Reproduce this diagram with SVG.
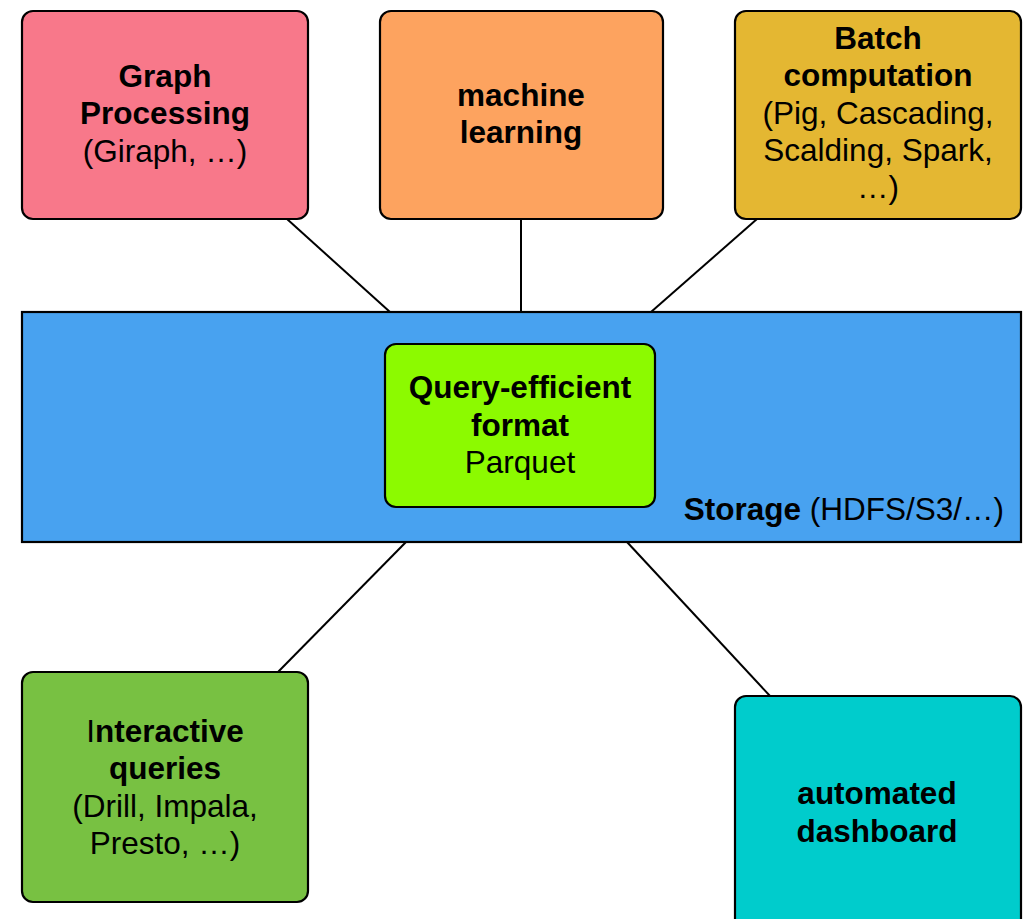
<svg xmlns="http://www.w3.org/2000/svg" width="1031" height="919" viewBox="0 0 1031 919">
<style>
.box{stroke:#000;stroke-width:2.2}
text{font-family:"Liberation Sans",Arial,sans-serif;font-size:31.5px;fill:#000;text-anchor:middle}
.b{font-weight:bold}
.conn line{stroke:#000;stroke-width:2}
</style>
<rect width="1031" height="919" fill="#fff"/>
<g class="conn">
<line x1="287" y1="219" x2="390" y2="312"/>
<line x1="521" y1="219" x2="521" y2="312"/>
<line x1="757" y1="219" x2="651" y2="312"/>
<line x1="278" y1="672" x2="406" y2="542"/>
<line x1="770" y1="696" x2="627" y2="542"/>
</g>
<g id="graph">
<rect class="box" x="22" y="11" width="286" height="208" rx="11" fill="#F8788A"/>
<text x="165" y="87" class="b">Graph</text>
<text x="165" y="124" class="b">Processing</text>
<text x="165" y="162">(Giraph, …)</text>
</g>
<g id="ml">
<rect class="box" x="380" y="11" width="283" height="208" rx="11" fill="#FDA35F"/>
<text x="521" y="106" class="b">machine</text>
<text x="521" y="143" class="b">learning</text>
</g>
<g id="batch">
<rect class="box" x="735" y="11" width="286" height="208" rx="11" fill="#E4B732"/>
<text x="878" y="49" class="b">Batch</text>
<text x="878" y="86" class="b">computation</text>
<text x="878" y="124">(Pig, Cascading,</text>
<text x="878" y="161">Scalding, Spark,</text>
<text x="878" y="198">…)</text>
</g>
<g id="storage">
<rect class="box" x="22" y="312" width="999" height="230" fill="#48A2F0"/>
<text x="1004" y="520" style="text-anchor:end"><tspan class="b">Storage</tspan> (HDFS/S3/…)</text>
</g>
<g id="query">
<rect class="box" x="385" y="344" width="270" height="163" rx="11" fill="#8CFA00"/>
<text x="520" y="398" class="b">Query-efficient</text>
<text x="520" y="436" class="b">format</text>
<text x="520" y="473">Parquet</text>
</g>
<g id="interactive">
<rect class="box" x="22" y="672" width="286" height="230" rx="11" fill="#78C142"/>
<text x="165" y="742" class="b"><tspan style="font-weight:normal">I</tspan>nteractive</text>
<text x="165" y="779" class="b">queries</text>
<text x="165" y="817">(Drill, Impala,</text>
<text x="165" y="854">Presto, …)</text>
</g>
<g id="dashboard">
<rect class="box" x="735" y="696" width="286" height="240" rx="11" fill="#00CCCC"/>
<text x="877" y="804" class="b">automated</text>
<text x="877" y="842" class="b">dashboard</text>
</g>
</svg>
